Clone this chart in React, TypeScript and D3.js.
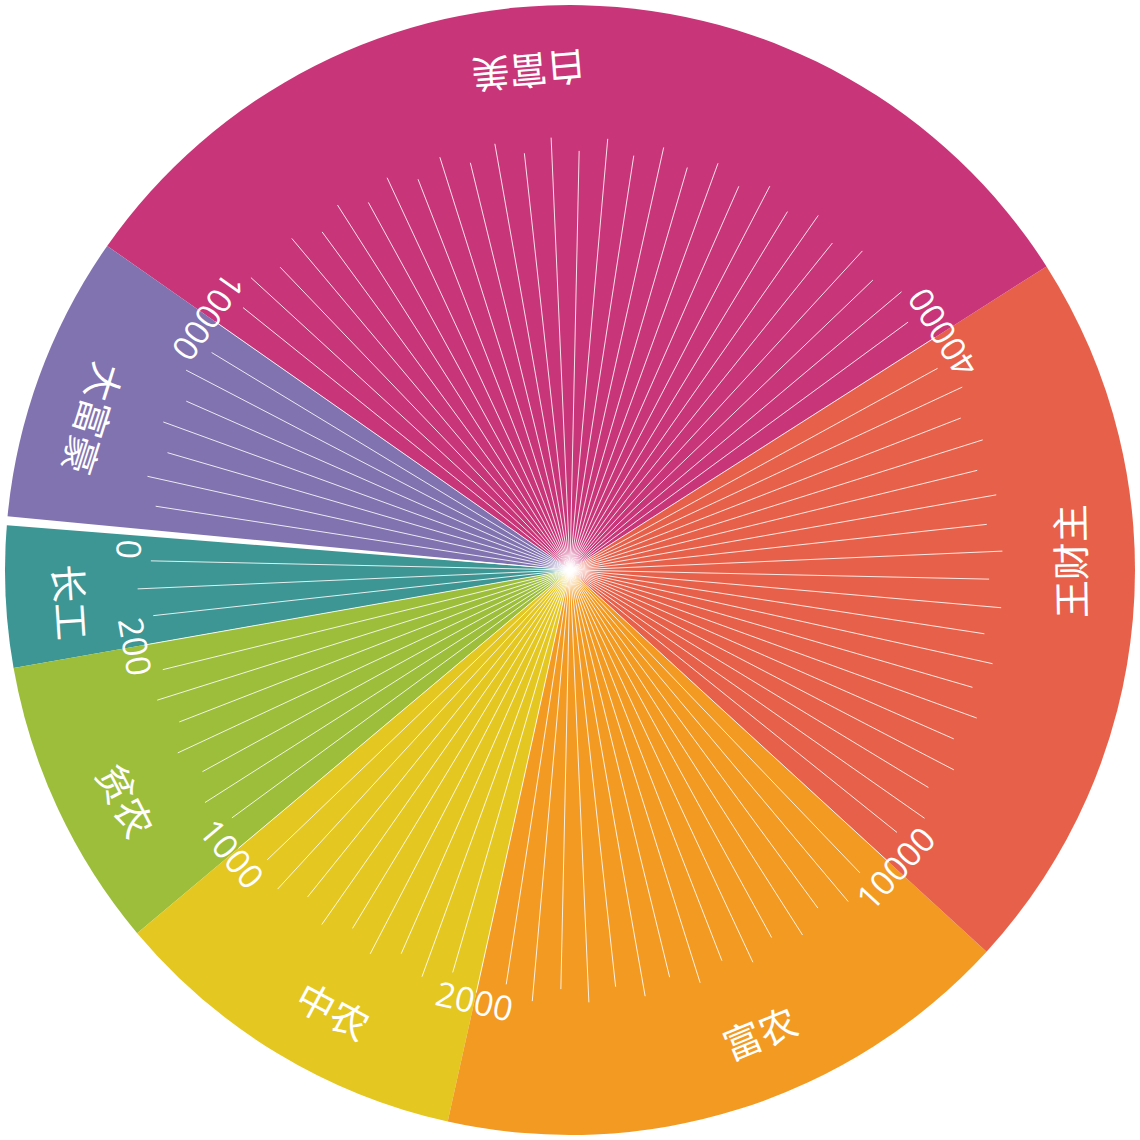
import React from 'react';
import * as d3 from 'd3';

// income classes, counted counter-clockwise from the "0" mark
const categories = ['长工', '贫农', '中农', '富农', '王财主', '白富美', '大富豪'];
const counts = [4, 8, 10, 16, 20, 30, 8];
const colors = ['#3D9694', '#9CBE3A', '#E4C721', '#F29A21', '#E7614A', '#C93579', '#8172B0'];
// labels at the boundaries (start of 长工, then the end of each class)
const tickLabels = ['0', '200', '1000', '2000', '10000', '40000', '10000'];

// one ray per unit step, length as % of the radius (long / short alternating)
const rayValues = [
  76.6, 74.2, 76.6, 74.2, 76.6, 74.2, 76.6, 74.2, 76.6, 74.2, 76.6, 74.2,
  76.6, 74.2, 76.6, 74.2, 76.6, 74.2, 76.6, 74.2, 76.6, 74.2, 76.6, 74.2,
  76.6, 74.2, 76.6, 74.2, 76.6, 74.2, 76.6, 74.2, 76.6, 74.2, 76.6, 74.2,
  76.6, 74.2, 76.6, 74.2, 76.6, 74.2, 76.6, 74.2, 76.6, 74.2, 76.6, 74.2,
  76.6, 74.2, 76.6, 74.2, 76.6, 74.2, 76.6, 74.2, 76.6, 74.2, 76.6, 74.2,
  76.6, 74.2, 76.6, 74.2, 76.6, 74.2, 76.6, 74.2, 76.6, 74.2, 76.6, 74.2,
  76.6, 74.2, 76.6, 74.2, 76.6, 74.2, 76.6, 74.2, 76.6, 74.2, 76.6, 74.2,
  76.6, 74.2, 76.6, 74.2, 76.6, 74.2, 76.6, 74.2, 76.6, 74.2, 76.6, 74.2
];

const W = 1140;
const R = 565;
const deg = (d: number) => (d * Math.PI) / 180;
const START = 275;

export default function App() {
  const total = d3.sum(counts);
  const angle = d3.scaleLinear().domain([0, total]).range([deg(START), deg(START - 360)]);
  const radius = d3.scaleLinear().domain([0, 100]).range([0, R]);

  const pie = d3.pie<number>().sort(null).value(d => d)
    .startAngle(deg(START)).endAngle(deg(START - 360));
  const arcs = pie(counts);
  const arc = d3.arc<d3.PieArcDatum<number>>().innerRadius(0).outerRadius(R);
  const gap = d3.arc()({innerRadius: 0, outerRadius: R + 3, startAngle: deg(START - 0.45), endAngle: deg(START + 0.45)} as any);

  const cum = [0, ...d3.cumsum(counts)];

  const place = (a: number, r: number) => {
    const ad = (a * 180) / Math.PI;
    return `translate(${r * Math.sin(a)},${-r * Math.cos(a)}) rotate(${ad + 180})`;
  };

  return (
    <svg width={W} height={W} style={{position: 'absolute', left: 0, top: 0}}>
      <g transform={`translate(${W / 2},${W / 2})`}>
        {arcs.map((d, i) => (
          <path key={i} d={arc(d) as string} fill={colors[i]} />
        ))}
        {rayValues.map((v, i) => {
          const a = angle(i);
          const r = radius(v);
          return (
            <line key={i} x1={0} y1={0} x2={r * Math.sin(a)} y2={-r * Math.cos(a)}
              stroke="#fff" strokeOpacity={0.85} strokeWidth={1} />
          );
        })}
        <path d={gap as string} fill="#fff" />
        {tickLabels.map((t, i) => {
          // the "0" is kept clear of the white gap
          const a = angle(cum[i]) - (i === 0 ? deg(2.3) : 0);
          return (
            <text key={i} transform={place(a, 441)} textAnchor="middle"
              dominantBaseline="central" fill="#fff" fontSize={34}
              fontFamily="'Open Sans', 'Noto Sans', sans-serif">{t}</text>
          );
        })}
        {arcs.map((d, i) => {
          // labels sit a little counter-clockwise of the slice middle
          const span = Math.abs(d.endAngle - d.startAngle);
          const mid = (d.startAngle + d.endAngle) / 2 - Math.min(span * 0.08, deg(6));
          return (
            <text key={categories[i]} transform={place(mid, 499)} textAnchor="middle"
              dominantBaseline="central" fill="#fff" fontSize={38}
              fontFamily="'Noto Sans CJK SC', sans-serif">{categories[i]}</text>
          );
        })}
      </g>
    </svg>
  );
}
